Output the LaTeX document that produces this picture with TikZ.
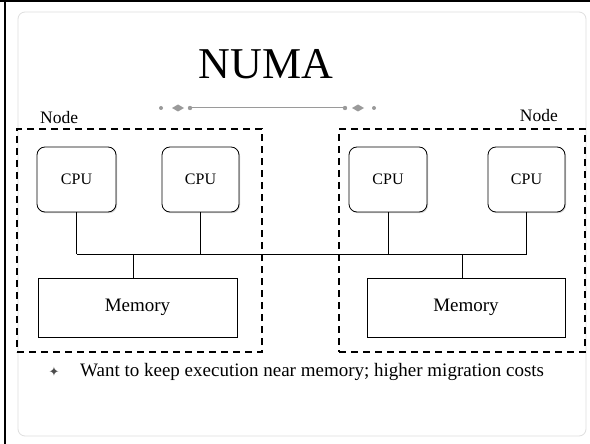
\documentclass[tikz,border=0pt]{standalone}
\usepackage{fontspec}
\setmainfont{Liberation Serif}
\newfontfamily\symfont{DejaVu Sans}
\usetikzlibrary{shadows}
\definecolor{ornament}{HTML}{9A9A9A}
\tikzset{
  cpubox/.style={draw, line width=0.8pt, rounded corners=8pt, fill=white,
    minimum width=78pt, minimum height=65pt, inner sep=0pt,
    font=\fontsize{16}{18}\selectfont,
    drop shadow={opacity=0.35, shadow xshift=1pt, shadow yshift=-1.2pt}},
  membox/.style={draw, line width=0.8pt, fill=white,
    minimum width=198pt, minimum height=59pt, inner sep=0pt,
    font=\fontsize{19}{21}\selectfont,
    drop shadow={opacity=0.35, shadow xshift=1pt, shadow yshift=-1.2pt}},
  nodebox/.style={draw, line width=1.8pt, dash pattern=on 7pt off 5pt},
  wire/.style={line width=0.9pt},
  orndot/.style={fill=ornament, draw=none},
  label/.style={font=\fontsize{17.5}{19}\selectfont, inner sep=0pt}
}
\begin{document}
\begin{tikzpicture}[x=1pt,y=-1pt]
  \useasboundingbox (0,0) rectangle (590,444);
  \fill[white] (0,0) rectangle (590,444);
  % slide frame
  \draw[gray!25, line width=0.8pt, rounded corners=7pt] (18,12) rectangle (586,436);
  \draw[black, line width=2pt] (0,1) -- (590,1);
  \draw[black, line width=2pt] (5,0) -- (5,444);

  % title
  \node[font=\fontsize{44}{48}\selectfont, inner sep=0pt] (title) at (266,64) {NUMA};

  % ornament rule under the title
  \coordinate (ornW) at (190,108);
  \coordinate (ornE) at (345,108);
  \draw[ornament, line width=1pt] (ornW) -- (ornE);
  \fill[orndot] (161,108) circle (2);
  \fill[orndot] (ornW) circle (2.2);
  \fill[orndot] (ornE) circle (2.2);
  \fill[orndot] (374,108) circle (2);
  \fill[orndot] (172,108) -- (178,104.5) -- (184,108) -- (178,111.5) -- cycle;
  \fill[orndot] (352,108) -- (358,104.5) -- (364,108) -- (358,111.5) -- cycle;

  % node groups
  \node[nodebox, minimum width=245pt, minimum height=223pt] (nodeL) at (139.5,240.5) {};
  \node[nodebox, minimum width=246pt, minimum height=223pt] (nodeR) at (462,240.5) {};
  \node[label, anchor=south west] (nodeLlab) at (40,124) {Node};
  \node[label, anchor=south east] (nodeRlab) at (558,122) {Node};

  % processors
  \node[cpubox, minimum width=79pt] (cpu1) at (76.5,179.5) {CPU};
  \node[cpubox, minimum width=77pt] (cpu2) at (200.5,179.5) {CPU};
  \node[cpubox] (cpu3) at (388,179.5) {CPU};
  \node[cpubox, minimum width=77pt] (cpu4) at (526.5,179.5) {CPU};

  % memories
  \node[membox, minimum width=199pt] (memL) at (137.5,307.5) {Memory};
  \node[membox] (memR) at (466,307.5) {Memory};

  % interconnect
  \coordinate (busW) at (cpu1.south |- 0,254);
  \coordinate (busE) at (cpu4.south |- 0,254);
  \coordinate (tapL) at ([xshift=-4.5pt]memL.north);
  \coordinate (tapR) at ([xshift=-4pt]memR.north);
  \draw[wire] (busW) -- (busE);
  \draw[wire] (cpu1.south) -- (busW);
  \draw[wire] (cpu2.south) -- (cpu2.south |- busW);
  \draw[wire] (cpu3.south) -- (cpu3.south |- busW);
  \draw[wire] (cpu4.south) -- (busE);
  \draw[wire] (tapL) -- (tapL |- busW);
  \draw[wire] (tapR) -- (tapR |- busW);

  % bullet point
  \node[font=\symfont\fontsize{13}{14}\selectfont, text=black!70, inner sep=0pt] (star) at (54,372) {✦};
  \node[font=\fontsize{19}{21}\selectfont, inner sep=0pt, anchor=west] (note) at (80,372) {Want to keep execution near memory; higher migration costs};
\end{tikzpicture}
\end{document}
